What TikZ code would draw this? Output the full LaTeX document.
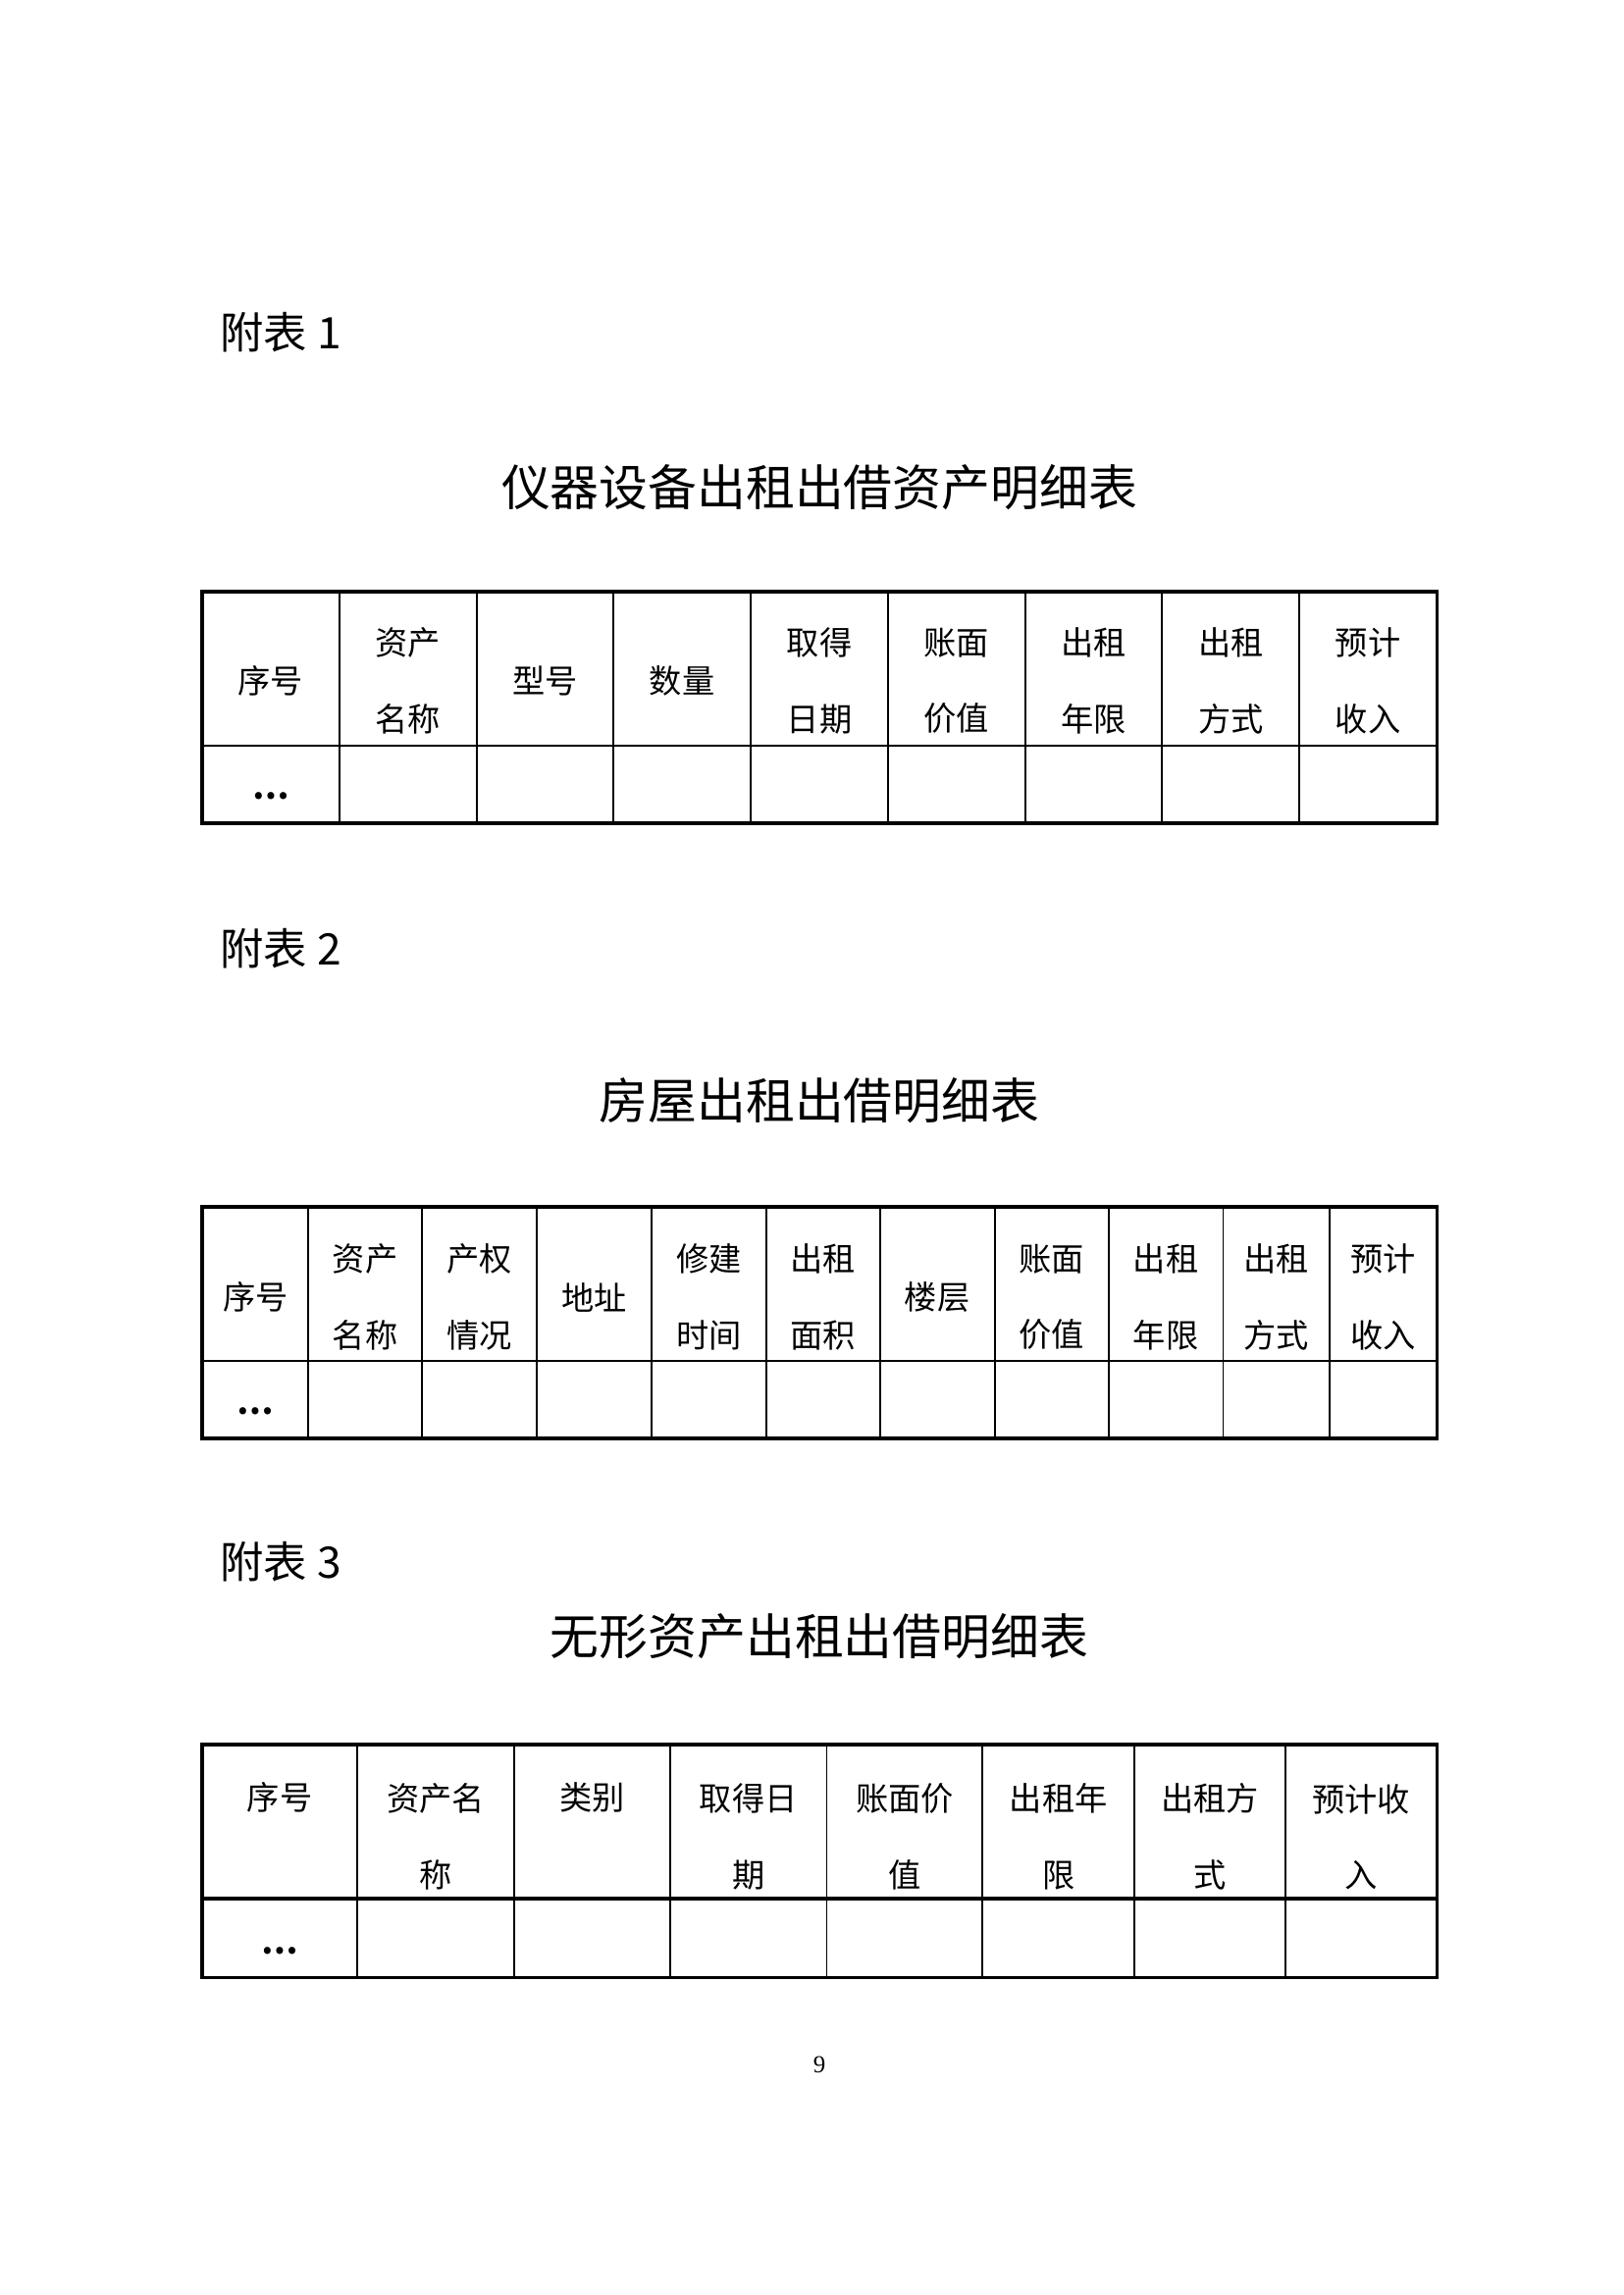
\documentclass[tikz,border=0pt]{standalone}
\usepackage{fontspec}
\setmainfont{Liberation Serif}
\newfontfamily\cjk{Noto Sans CJK SC}
\tikzset{
	cell/.style={font=\cjk\fontsize{12pt}{28pt}\selectfont, align=center, inner sep=0pt},
	dots/.style={font=\cjk\bfseries\fontsize{12pt}{12pt}\selectfont, inner sep=0pt},
	caption/.style={font=\cjk\fontsize{16pt}{16pt}\selectfont, anchor=west, inner sep=0pt},
	heading/.style={font=\cjk\fontsize{18pt}{18pt}\selectfont, inner sep=0pt},
	frame/.style={line width=1.1pt},
	rule/.style={line width=0.7pt}
}
\begin{document}
\begin{tikzpicture}[x=0.012697cm,y=-0.012697cm]
	\useasboundingbox (0,0) rectangle (1654,2339);
	% table 1
	\node[caption] (fb1) at (224,339) {附表 1};
	\node[heading] (tt1) at (835,497) {仪器设备出租出借资产明细表};
	\draw[rule] (206,760)--(1464,760)
		(345.8,603)--(345.8,839) (485.6,603)--(485.6,839) (625.3,603)--(625.3,839)
		(765.1,603)--(765.1,839) (904.9,603)--(904.9,839) (1044.7,603)--(1044.7,839)
		(1184.4,603)--(1184.4,839) (1324.2,603)--(1324.2,839);
	\draw[frame] (206,603) rectangle (1464,839);
	\node[cell] (a1) at (275.9,694) {序号};
	\node[cell] (a2) at (415.7,694) {资产\\名称};
	\node[cell] (a3) at (555.5,694) {型号};
	\node[cell] (a4) at (695.2,694) {数量};
	\node[cell] (a5) at (835,694) {取得\\日期};
	\node[cell] (a6) at (974.8,694) {账面\\价值};
	\node[cell] (a7) at (1114.6,694) {出租\\年限};
	\node[cell] (a8) at (1254.3,694) {出租\\方式};
	\node[cell] (a9) at (1394.1,694) {预计\\收入};
	\node[dots] (ad) at (275.9,811) {…};
	% table 2
	\node[caption] (fb2) at (224,967) {附表 2};
	\node[heading] (tt2) at (835,1122) {房屋出租出借明细表};
	\draw[rule] (206,1387)--(1464,1387)
		(314.2,1230)--(314.2,1466) (430.3,1230)--(430.3,1466) (547.1,1230)--(547.1,1466)
		(663.9,1230)--(663.9,1466) (780.8,1230)--(780.8,1466) (896.8,1230)--(896.8,1466)
		(1013.6,1230)--(1013.6,1466) (1129.6,1230)--(1129.6,1466) (1246.5,1230)--(1246.5,1466)
		(1355.1,1230)--(1355.1,1466);
	\draw[frame] (206,1230) rectangle (1464,1466);
	\node[cell] (b1) at (260.3,1322) {序号};
	\node[cell] (b2) at (372.2,1322) {资产\\名称};
	\node[cell] (b3) at (488.7,1322) {产权\\情况};
	\node[cell] (b4) at (605.5,1322) {地址};
	\node[cell] (b5) at (722.3,1322) {修建\\时间};
	\node[cell] (b6) at (838.8,1322) {出租\\面积};
	\node[cell] (b7) at (955.2,1322) {楼层};
	\node[cell] (b8) at (1071.6,1322) {账面\\价值};
	\node[cell] (b9) at (1188,1322) {出租\\年限};
	\node[cell] (b10) at (1300.8,1322) {出租\\方式};
	\node[cell] (b11) at (1409.8,1322) {预计\\收入};
	\node[dots] (bd) at (260.3,1438) {…};
	% table 3
	\node[caption] (fb3) at (224,1592) {附表 3};
	\node[heading] (tt3) at (835,1668) {无形资产出租出借明细表};
	\draw[rule] (364.4,1778)--(364.4,2015) (524,1778)--(524,2015) (682.8,1778)--(682.8,2015)
		(842.5,1778)--(842.5,2015) (1001.3,1778)--(1001.3,2015) (1156,1778)--(1156,2015)
		(1309.8,1778)--(1309.8,2015);
	\draw[frame] (206,1935)--(1464,1935);
	\draw[frame] (206,1778) rectangle (1464,2015);
	\node[cell] (c1) at (285.2,1832) {序号};
	\node[cell] (c2) at (444.2,1872) {资产名\\称};
	\node[cell] (c3) at (603.4,1832) {类别};
	\node[cell] (c4) at (762.6,1872) {取得日\\期};
	\node[cell] (c5) at (921.9,1872) {账面价\\值};
	\node[cell] (c6) at (1078.6,1872) {出租年\\限};
	\node[cell] (c7) at (1232.9,1872) {出租方\\式};
	\node[cell] (c8) at (1386.9,1872) {预计收\\入};
	\node[dots] (cd) at (285.2,1988) {…};
	% page number
	\node[font=\fontsize{9pt}{9pt}\selectfont, inner sep=0pt] (pg) at (835,2104) {9};
\end{tikzpicture}
\end{document}
